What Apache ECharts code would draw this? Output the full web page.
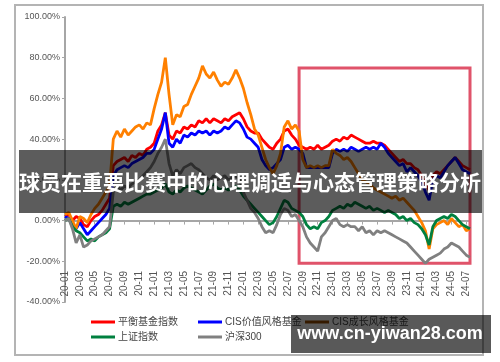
<!DOCTYPE html>
<html><head><meta charset="utf-8">
<script src="https://cdn.jsdelivr.net/npm/echarts@6/dist/echarts.min.js"></script>
<style>html,body{margin:0;padding:0;background:#fff}#c{width:500px;height:362px}</style>
</head><body><div id="c"></div>
<script>
// x tick labels (every 2 months); data sampled twice a month
const tickLabels = ['20-01','20-03','20-05','20-07','20-09','20-11','21-01','21-03','21-05','21-07','21-09','21-11','22-01','22-03','22-05','22-07','22-09','22-11','23-01','23-03','23-05','23-07','23-09','23-11','24-01','24-03','24-05','24-07'];
const categories = [];
for (let y = 20; y <= 24; y++) {
  for (let m = 1; m <= 12; m++) {
    if (y === 24 && m > 7) break;
    const mm = (m < 10 ? '0' : '') + m;
    categories.push(y + '-' + mm + 'a');
    categories.push(y + '-' + mm + 'b');
  }
}
const seriesNames = ['平衡基金指数','CIS价值风格基金','CIS成长风格基金','上证指数','沪深300'];

const balanced = [2,3,0,2,1,-2,-3,0,2,3,5,8,11,
  27,29,30,31,29,32,31,33,32,35,36,38,44,47,53,
  42,40,44,43,46,45,47,46,49,48,50,48,50,49,48,50,49,51,52,53,
  50,46,44,43,43,40,38,36,35,38,40,44,45,42,40,37,
  36,35,36,35,37,35,36,37,
  39,40,39,41,40,42,41,40,39,38,38,39,38,38,37,35,
  33,31,29,30,28,28,26,25,22,18,15,22,24,23,25,27,29,31,29,27,26,25];
const value = [2,1,-2,-4,-1,-4,-7,-5,-3,-1,1,3,6,
  22,25,26,27,26,28,29,30,31,33,33,35,40,45,53,
  38,36,40,38,42,41,43,42,44,43,44,42,44,43,44,46,45,47,49,48,
  45,41,40,38,36,30,27,25,26,28,30,36,37,35,36,35,
  33,26,26,26,26,26,26,26,
  33,35,34,35,34,36,35,34,35,36,35,36,35,38,36,33,
  31,29,27,28,24,26,24,22,19,14,10,20,22,21,24,27,29,31,28,25,24,23];
const growth = [3,4,0,-4,2,1,-1,3,6,8,11,14,17,
  40,44,41,45,42,44,46,47,45,48,47,55,62,68,80,
  62,47,52,51,56,57,62,66,70,76,72,70,73,69,66,68,67,70,74,70,
  65,58,52,45,42,36,30,26,23,27,33,46,49,45,47,44,
  30,26,27,26,27,26,27,27,
  35,33,32,30,31,29,26,23,20,19,18,16,15,14,13,12,
  11,12,10,11,9,7,5,2,-1,-5,-14,-4,-2,-1,0,-2,1,-1,-3,-2,-5,-4];
const shanghai = [0,1,-3,-5,-6,-8,-10,-9,-10,-8,-7,-6,-4,
  7,8,7,9,8,9,10,11,12,13,13,14,15,16,18,
  14,13,15,14,16,17,16,15,14,13,15,17,18,16,15,16,15,16,17,15,
  12,10,8,6,4,2,0,-2,-1,2,6,10,9,6,5,4,
  2,-2,-4,-3,-4,-1,0,2,
  5,6,7,6,8,7,9,8,7,6,7,5,6,5,4,5,
  4,3,1,2,0,1,-1,-2,-4,-7,-12,-3,0,1,2,1,3,2,0,-2,-3,-4];
const csi300 = [0,1,-4,-11,-7,-13,-12,-10,-9,-8,-7,-5,-3,
  14,17,15,17,16,18,19,20,22,24,26,29,33,36,40,
  28,22,25,23,26,27,28,26,25,23,21,20,22,20,21,22,20,21,22,20,
  14,10,6,4,1,-3,-6,-5,-6,-2,3,6,5,2,3,0,
  -3,-8,-11,-13,-15,-8,-6,-3,
  0,1,-2,-3,-2,-3,-3,-5,-3,-6,-5,-7,-5,-6,-5,-6,
  -7,-8,-9,-10,-11,-13,-15,-17,-19,-21,-19,-18,-17,-16,-14,-13,-11,-12,-13,-15,-17,-18];
const highlight = {from: 63, to: 109, top: 75, bottom: -21};

const colors = ['#ff0000','#0000ff','#ff8000','#00803f','#808080'];
const legendIconColors = ['#ff0000','#0000ff','#994c00','#00803f','#808080'];
const FONT = '"Liberation Sans", Arial, "Noto Sans CJK SC", sans-serif';

const chart = echarts.init(document.getElementById('c'), null, {renderer: 'canvas'});
const allData = [balanced, value, growth, shanghai, csi300];
const legendPos = [[91,317],[198,317],[305,317],[91,332],[198,332]];

const option = {
  animation: false,
  backgroundColor: '#fff',
  grid: {left: 65, right: 30, top: 17, bottom: 60, containLabel: false},
  legend: seriesNames.map((n, i) => ({
    data: [{name: n, itemStyle: {color: legendIconColors[i]}}],
    left: legendPos[i][0], top: legendPos[i][1],
    icon: 'rect', itemWidth: 24, itemHeight: 3, itemGap: 0,
    padding: 0, selectedMode: false,
    textStyle: {fontSize: 10, color: '#444', fontFamily: FONT, padding: [0,0,0,-2]}
  })),
  xAxis: {
    type: 'category', data: categories, boundaryGap: false, offset: -35,
    axisLine: {lineStyle: {color: '#a6a6a6', width: 2}},
    axisTick: {interval: 3, length: 4, lineStyle: {color: '#a6a6a6', width: 1}},
    axisLabel: {interval: 3, rotate: 90, fontSize: 10, color: '#555', margin: 4, fontFamily: FONT,
      formatter: (v, i) => tickLabels[Math.round(i / 4)]},
    splitLine: {show: false}
  },
  yAxis: {
    type: 'value', min: -40, max: 100, interval: 20,
    axisLine: {show: true, lineStyle: {color: '#a6a6a6', width: 2}},
    axisTick: {show: true, length: 3, lineStyle: {color: '#a6a6a6'}},
    axisLabel: {fontSize: 9, color: '#555', margin: 5, fontFamily: FONT,
      formatter: v => v.toFixed(2) + '%'},
    splitLine: {show: false}
  },
  series: seriesNames.map((n, i) => {
    const s = {
      name: n, type: 'line', data: allData[i], showSymbol: false, symbol: 'none',
      lineStyle: {width: 2.8, color: colors[i]}, itemStyle: {color: colors[i]},
      z: 2 + i
    };
    if (i === 0) {
      s.markArea = {
        silent: true,
        itemStyle: {color: 'rgba(0,0,0,0)', borderColor: '#e0536a', borderWidth: 3},
        data: [[{xAxis: categories[highlight.from], yAxis: highlight.top},
                {xAxis: categories[highlight.to], yAxis: highlight.bottom}]]
      };
    }
    return s;
  }),
  graphic: [
    {type: 'rect', z: 1, silent: true, shape: {x: 15, y: 5, width: 468, height: 350},
      style: {fill: 'none', stroke: '#b4b4b4', lineWidth: 2}},
    {type: 'rect', z: 100, silent: true, shape: {x: 19, y: 150, width: 463, height: 63},
      style: {fill: 'rgba(0,0,0,0.64)'}},
    {type: 'text', z: 101, silent: true, x: 250, y: 182,
      style: {text: '球员在重要比赛中的心理调适与心态管理策略分析', fill: '#fff',
        font: 'bold 21px "Noto Sans CJK SC", sans-serif', textAlign: 'center', textVerticalAlign: 'middle'}},
    {type: 'rect', z: 100, silent: true, shape: {x: 291, y: 315, width: 200, height: 38},
      style: {fill: 'rgba(0,0,0,0.65)'}},
    {type: 'text', z: 101, silent: true, x: 390, y: 334,
      style: {text: 'www.cn-yiwan28.com', fill: '#fff',
        font: 'bold 18px "Liberation Sans", Arial, sans-serif', textAlign: 'center', textVerticalAlign: 'middle'}}
  ]
};
chart.setOption(option);
</script>
</body></html>
